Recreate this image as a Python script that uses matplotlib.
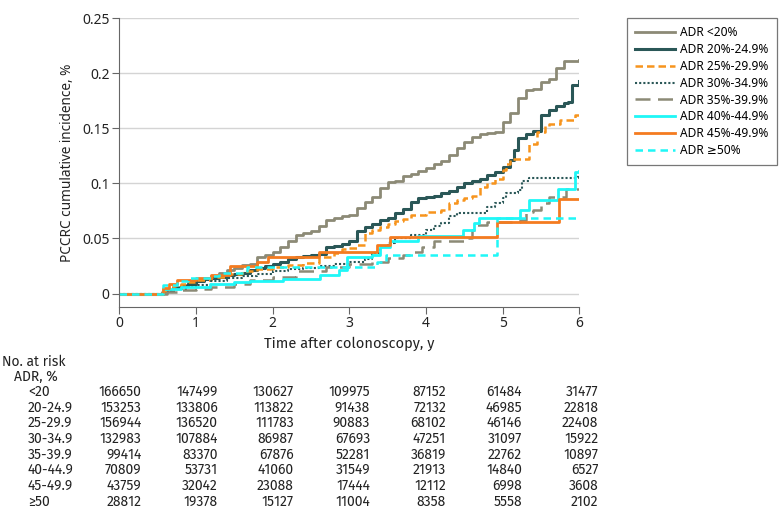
import matplotlib
matplotlib.use("Agg")
import matplotlib.pyplot as plt
from matplotlib import font_manager
from matplotlib.ticker import FuncFormatter

names = set(f.name for f in font_manager.fontManager.ttflist)
tab_font = 'Liberation Sans'
for cand in ['Fira Sans', 'Liberation Sans']:
    if cand in names:
        tab_font = cand
        break
tfs = 10
plt.rcParams['font.family'] = ['Noto Sans', 'DejaVu Sans']

# ---- data ----
labels = ['ADR <20%', 'ADR 20%-24.9%', 'ADR 25%-29.9%', 'ADR 30%-34.9%',
          'ADR 35%-39.9%', 'ADR 40%-44.9%', 'ADR 45%-49.9%', 'ADR \u226550%']

t_lt20 = [0, 0.55, 0.6, 0.7, 0.8, 0.9, 1.0, 1.1, 1.2, 1.3, 1.4, 1.5, 1.6, 1.7, 1.8, 1.9, 2.0,
          2.1, 2.2, 2.3, 2.4, 2.5, 2.6, 2.7, 2.8, 2.9, 3.0, 3.1, 3.2, 3.3, 3.4, 3.5, 3.6, 3.7,
          3.8, 3.9, 4.0, 4.1, 4.2, 4.3, 4.4, 4.5, 4.6, 4.7, 4.8, 4.9, 5.0, 5.1, 5.2, 5.3, 5.4,
          5.5, 5.6, 5.7, 5.8, 6.0]
y_lt20 = [0, 0.001, 0.003, 0.006, 0.008, 0.010, 0.012, 0.014, 0.016, 0.019, 0.021, 0.023,
          0.026, 0.027, 0.033, 0.035, 0.038, 0.042, 0.048, 0.053, 0.055, 0.057, 0.061, 0.067,
          0.069, 0.070, 0.071, 0.078, 0.083, 0.088, 0.096, 0.101, 0.102, 0.107, 0.109, 0.111,
          0.114, 0.118, 0.120, 0.126, 0.132, 0.138, 0.142, 0.145, 0.146, 0.147, 0.156, 0.164,
          0.178, 0.185, 0.186, 0.192, 0.195, 0.205, 0.211, 0.212]

t_20 = [0, 0.57, 0.7, 0.8, 0.9, 1.0, 1.1, 1.2, 1.3, 1.4, 1.5, 1.6, 1.7, 1.8, 1.9, 2.0, 2.1,
        2.2, 2.3, 2.4, 2.5, 2.6, 2.7, 2.8, 2.9, 3.0, 3.1, 3.2, 3.3, 3.4, 3.5, 3.6, 3.7, 3.8,
        3.9, 4.0, 4.1, 4.2, 4.3, 4.4, 4.5, 4.6, 4.7, 4.8, 4.9, 5.0, 5.1, 5.15, 5.2, 5.3, 5.4,
        5.5, 5.6, 5.7, 5.8, 5.85, 5.9, 6.0]
y_20 = [0, 0.002, 0.005, 0.007, 0.009, 0.011, 0.013, 0.014, 0.015, 0.017, 0.018, 0.019,
        0.021, 0.023, 0.025, 0.027, 0.029, 0.031, 0.033, 0.034, 0.035, 0.036, 0.042, 0.043,
        0.045, 0.048, 0.057, 0.060, 0.063, 0.067, 0.069, 0.073, 0.077, 0.083, 0.087, 0.088,
        0.089, 0.091, 0.093, 0.097, 0.100, 0.102, 0.104, 0.108, 0.110, 0.115, 0.121, 0.130,
        0.141, 0.145, 0.148, 0.162, 0.167, 0.170, 0.173, 0.174, 0.189, 0.193]

t_25 = [0, 0.55, 0.7, 0.8, 0.9, 1.0, 1.2, 1.4, 1.6, 1.8, 2.0, 2.2, 2.4, 2.6, 2.8, 2.9, 3.0,
        3.1, 3.2, 3.3, 3.4, 3.5, 3.6, 3.7, 3.8, 4.0, 4.2, 4.3, 4.4, 4.5, 4.6, 4.7, 4.8, 4.9,
        5.0, 5.05, 5.1, 5.3, 5.35, 5.45, 5.55, 5.6, 5.75, 5.95, 6.0]
y_25 = [0, 0.002, 0.007, 0.009, 0.010, 0.012, 0.015, 0.018, 0.020, 0.022, 0.024, 0.026,
        0.028, 0.033, 0.037, 0.040, 0.041, 0.044, 0.055, 0.058, 0.060, 0.063, 0.066, 0.068,
        0.071, 0.074, 0.076, 0.082, 0.085, 0.087, 0.089, 0.097, 0.100, 0.104, 0.112, 0.118,
        0.122, 0.122, 0.136, 0.147, 0.152, 0.154, 0.158, 0.162, 0.162]

t_30 = [0, 0.57, 0.7, 0.9, 1.0, 1.2, 1.4, 1.6, 1.8, 2.0, 2.2, 2.4, 2.6, 2.8, 3.0, 3.2, 3.3,
        3.4, 3.5, 3.6, 3.8, 4.0, 4.1, 4.2, 4.3, 4.4, 4.7, 4.8, 4.9, 5.0, 5.05, 5.2, 5.25,
        5.35, 5.98, 6.0]
y_30 = [0, 0.001, 0.004, 0.006, 0.008, 0.011, 0.014, 0.016, 0.018, 0.020, 0.022, 0.023,
        0.025, 0.027, 0.029, 0.031, 0.037, 0.042, 0.046, 0.050, 0.053, 0.058, 0.061, 0.064,
        0.070, 0.073, 0.073, 0.079, 0.082, 0.087, 0.091, 0.094, 0.102, 0.105, 0.108, 0.108]

t_35 = [0, 0.62, 0.8, 1.0, 1.2, 1.5, 1.7, 2.0, 2.3, 2.7, 3.0, 3.3, 3.5, 3.7, 3.85, 3.95,
        4.1, 4.53, 4.6, 4.66, 4.8, 5.23, 5.3, 5.4, 5.5, 5.6, 5.83, 6.0]
y_35 = [0, 0.001, 0.003, 0.004, 0.006, 0.009, 0.012, 0.015, 0.020, 0.024, 0.027, 0.029,
        0.032, 0.035, 0.038, 0.042, 0.048, 0.050, 0.058, 0.062, 0.065, 0.067, 0.074, 0.076,
        0.082, 0.088, 0.095, 0.095]

t_40 = [0, 0.57, 0.8, 1.18, 1.5, 1.7, 2.14, 2.62, 2.87, 2.97, 3.3, 3.4, 3.53, 3.9, 4.48,
        4.62, 4.69, 5.22, 5.35, 5.72, 5.94, 6.0]
y_40 = [0, 0.004, 0.006, 0.009, 0.010, 0.011, 0.013, 0.017, 0.021, 0.033, 0.035, 0.042,
        0.048, 0.052, 0.058, 0.064, 0.069, 0.076, 0.085, 0.095, 0.110, 0.111]

t_45 = [0, 0.57, 0.65, 0.75, 1.0, 1.2, 1.45, 1.79, 1.94, 2.6, 3.36, 3.53, 4.92, 5.73, 6.0]
y_45 = [0, 0.005, 0.009, 0.012, 0.014, 0.017, 0.025, 0.029, 0.033, 0.038, 0.044, 0.051,
        0.065, 0.086, 0.086]

t_50 = [0, 0.57, 0.75, 0.9, 1.2, 1.3, 1.66, 3.36, 3.48, 4.92, 6.0]
y_50 = [0, 0.008, 0.011, 0.014, 0.016, 0.019, 0.024, 0.029, 0.035, 0.069, 0.069]

# number at risk table
risk_years = [0, 1, 2, 3, 4, 5, 6]
risk_groups = ['<20', '20-24.9', '25-29.9', '30-34.9', '35-39.9', '40-44.9', '45-49.9', '\u226550']
risk_n = [
    [166650, 147499, 130627, 109975, 87152, 61484, 31477],
    [153253, 133806, 113822, 91438, 72132, 46985, 22818],
    [156944, 136520, 111783, 90883, 68102, 46146, 22408],
    [132983, 107884, 86987, 67693, 47251, 31097, 15922],
    [99414, 83370, 67876, 52281, 36819, 22762, 10897],
    [70809, 53731, 41060, 31549, 21913, 14840, 6527],
    [43759, 32042, 23088, 17444, 12112, 6998, 3608],
    [28812, 19378, 15127, 11004, 8358, 5558, 2102],
]

series = [(t_lt20, y_lt20), (t_20, y_20), (t_25, y_25), (t_30, y_30),
          (t_35, y_35), (t_40, y_40), (t_45, y_45), (t_50, y_50)]
colors = ['#8c8a76', '#2a5757', '#f7941d', '#2a5757', '#8c8a76', '#1ff7f7', '#f47b20', '#1ff7f7']
styles = ['-', '-', (0, (3, 1.6)), (0, (1, 1)), (0, (6, 3)), '-', '-', (0, (3, 2))]
widths = [2.0, 2.2, 1.8, 1.5, 1.8, 2.0, 2.0, 1.8]

fig = plt.figure(figsize=(7.8, 5.21), dpi=100)
ax = fig.add_axes([0.153, 0.4113, 0.5897, 0.5536])

for (t, y), lab, c, ls, lw in zip(series, labels, colors, styles, widths):
    ax.step(t, y, where='post', color=c, linestyle=ls, linewidth=lw, label=lab)

ax.set_xlim(0, 6)
ax.set_ylim(-0.012, 0.25)
ax.set_xticks(risk_years)
ax.set_yticks([0, 0.05, 0.1, 0.15, 0.2, 0.25])
ax.yaxis.set_major_formatter(FuncFormatter(lambda v, p: '%g' % round(v, 3)))
ax.grid(axis='y', color='#d4d4d4', linewidth=1)
ax.set_axisbelow(True)
for s in ['top', 'right']:
    ax.spines[s].set_visible(False)
for s in ['left', 'bottom']:
    ax.spines[s].set_color('#666666')
ax.tick_params(axis='both', direction='out', length=5, color='#666666',
               labelsize=10, labelcolor='#222222', pad=2)

ax.set_ylabel('PCCRC cumulative incidence, %', fontsize=9.8, color='#222222', labelpad=5)
ax.set_xlabel('Time after colonoscopy, y', fontsize=tfs + 0.5, family=[tab_font, 'DejaVu Sans'],
              color='#222222', labelpad=4)

leg = ax.legend(loc='upper left', bbox_to_anchor=(627 / 780, 1 - 18 / 521),
                bbox_transform=fig.transFigure, borderaxespad=0, fontsize=8.6,
                frameon=True, fancybox=False, edgecolor='#555555', handlelength=3.3,
                borderpad=0.7, labelspacing=0.32, handletextpad=0.45)
leg.get_frame().set_linewidth(0.9)

# number at risk
H = 521.0
W = 780.0
fam = [tab_font, 'DejaVu Sans']
fig.text(1.5 / W, 1 - 361.7 / H, 'No. at risk', family=fam, fontsize=tfs, va='center', color='#222222')
fig.text(14 / W, 1 - 376.7 / H, 'ADR, %', family=fam, fontsize=tfs, va='center', color='#222222')
for i, (grp, row) in enumerate(zip(risk_groups, risk_n)):
    yy = 1 - (391.7 + i * 15.7) / H
    fig.text(28 / W, yy, grp, family=fam, fontsize=tfs, va='center', color='#222222')
    for j, n in enumerate(row):
        fig.text((141.7 + 76.1 * j) / W, yy, str(n), family=fam, fontsize=tfs,
                 va='center', ha='right', color='#222222')

fig.savefig('out.png', dpi=100)
